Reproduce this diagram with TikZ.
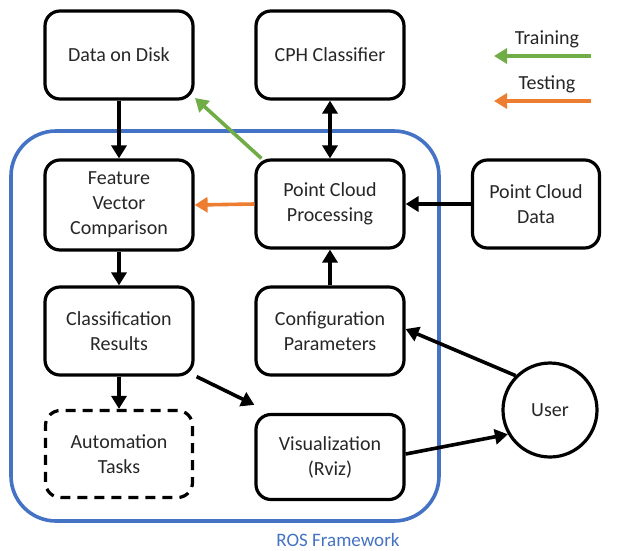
\documentclass[tikz,border=0pt]{standalone}
\usepackage{fontspec}
\setmainfont{Carlito}
\usetikzlibrary{arrows.meta}
\definecolor{rosblue}{RGB}{68,114,196}
\definecolor{trgreen}{RGB}{112,173,71}
\definecolor{tsorange}{RGB}{237,125,49}
\begin{document}
\begin{tikzpicture}[x=1pt,y=-1pt,
  box/.style={draw=black,line width=3.2pt,rounded corners=15pt,minimum width=148pt,minimum height=88pt,align=center,font=\fontsize{20}{25}\selectfont,text=black!85},
  dbox/.style={box,dashed,dash pattern=on 10pt off 7pt},
  conn/.style={line width=3.6pt,-{Triangle[length=13pt,width=15pt]}},
  biconn/.style={line width=3.6pt,{Triangle[length=13pt,width=15pt]}-{Triangle[length=13pt,width=15pt]}},
  lbl/.style={font=\fontsize{20}{25}\selectfont,text=black!85}]
\useasboundingbox (0,0) rectangle (621,550);
% ROS frame
\draw[rosblue,line width=3.6pt,rounded corners=45pt] (11,131) rectangle (439,521);
\node[font=\fontsize{19}{23}\selectfont,text=rosblue] (ros) at (338,540) {ROS Framework};
% boxes
\node[box] (disk) at (119,55) {Data on Disk};
\node[box,minimum height=90pt] (fvc) at (119,205) {Feature\\Vector\\Comparison};
\node[box] (cph) at (330,55) {CPH Classifier};
\node[box] (pcp) at (330,204) {Point Cloud\\Processing};
\node[box,minimum width=127pt] (pcd) at (536,204) {Point Cloud\\Data};
\node[box] (cr) at (119,331) {Classification\\Results};
\node[box] (cfg) at (330,331) {Configuration\\Parameters};
\node[dbox,minimum width=147pt,minimum height=87pt] (auto) at (119,454) {Automation\\Tasks};
\node[box,minimum height=85pt] (vis) at (330,457) {Visualization\\(Rviz)};
\node[draw=black,line width=3.2pt,circle,minimum size=94pt,lbl] (user) at (550,410) {User};
% connectors
\draw[conn] (disk.south) -- (fvc.north);
\draw[biconn] (cph.south) -- (pcp.north);
\draw[conn,trgreen] (pcp.north west) ++(7,0) coordinate (g1) -- (195,98) coordinate (g2);
\draw[conn,tsorange] (pcp.west) -- (fvc.east);
\draw[conn] (pcd.west) -- (pcp.east);
\draw[conn] (fvc.south) -- (cr.north);
\draw[conn] (cfg.north) -- (pcp.south);
\draw[conn] (cr.south) -- (auto.north);
\draw[conn] (cr.south east) ++(2,0) coordinate (c1) -- ([yshift=8pt]vis.north west);
\draw[conn] (user.135) -- ([yshift=2pt]cfg.east);
\draw[conn] ([yshift=3pt]vis.east) -- (user.210);
% legend
\node[lbl] (tr) at (547,39) {Training};
\coordinate (tra) at (591,56);
\coordinate (trb) at (494,56);
\draw[conn,trgreen] (tra) -- (trb);
\node[lbl] (ts) at (547,84) {Testing};
\coordinate (tsa) at (591,101);
\coordinate (tsb) at (494,101);
\draw[conn,tsorange] (tsa) -- (tsb);
\end{tikzpicture}
\end{document}
